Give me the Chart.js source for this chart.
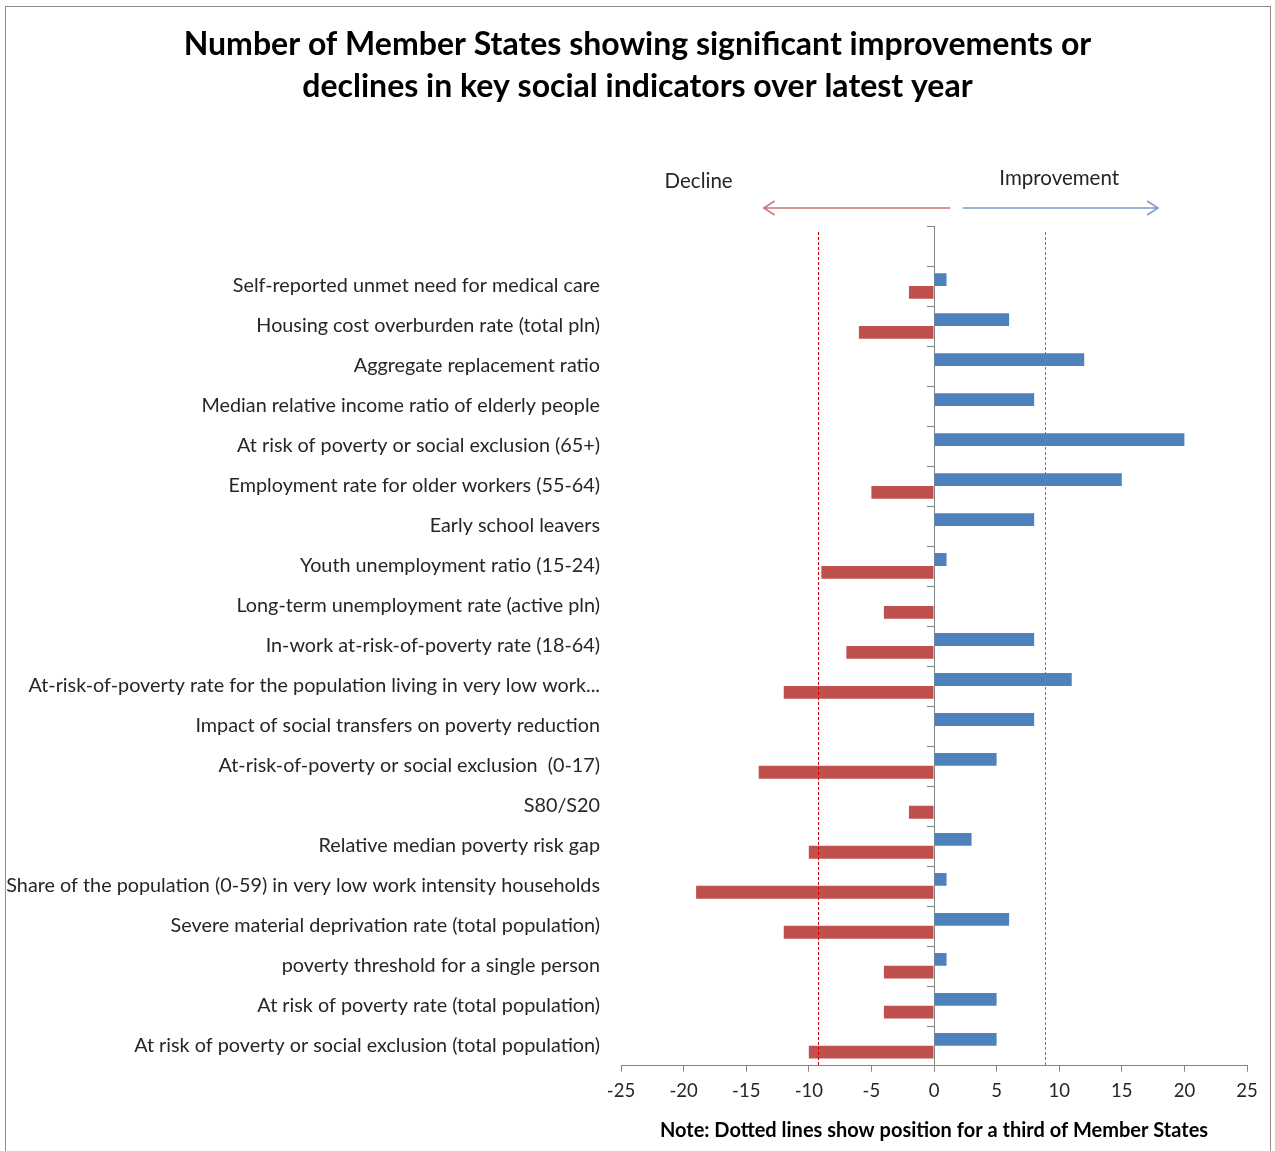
<!DOCTYPE html>
<html>
<head>
<meta charset="utf-8">
<script src="https://cdn.jsdelivr.net/npm/chart.js@4.4.0/dist/chart.umd.min.js"></script>
<style>
  body { margin: 0; background: #fff; }
  #wrap { position: relative; width: 1275px; height: 1151px; }
  #frame { position: absolute; left: 5px; top: 6px; width: 1264px; height: 1160px; border: 1px solid #8c8c8c; pointer-events: none; }
</style>
</head>
<body>
<div id="wrap">
  <canvas id="grafico"></canvas>
  <div id="frame"></div>
</div>
<script>
// Indicators, top to bottom (first slot left empty, as in the original sheet)
const indicators = [
  '',
  'Self-reported unmet need for medical care',
  'Housing cost overburden rate (total pln)',
  'Aggregate replacement ratio',
  'Median relative income ratio of elderly people',
  'At risk of poverty or social exclusion (65+)',
  'Employment rate for older workers (55-64)',
  'Early school leavers',
  'Youth unemployment ratio (15-24)',
  'Long-term unemployment rate (active pln)',
  'In-work at-risk-of-poverty rate (18-64)',
  'At-risk-of-poverty rate for the population living in very low work...',
  'Impact of social transfers on poverty reduction',
  'At-risk-of-poverty or social exclusion  (0-17)',
  'S80/S20',
  'Relative median poverty risk gap',
  'Share of the population (0-59) in very low work intensity households',
  'Severe material deprivation rate (total population)',
  'poverty threshold for a single person',
  'At risk of poverty rate (total population)',
  'At risk of poverty or social exclusion (total population)'
];

const improvements = [null, 1, 6, 12, 8, 20, 15, 8, 1, 0, 8, 11, 8, 5, 0, 3, 1, 6, 1, 5, 5];
const declines = [null, -2, -6, 0, 0, 0, -5, 0, -9, -4, -7, -12, 0, -14, -2, -10, -19, -12, -4, -4, -10];

// a third of Member States
const thirdDecline = -9.3;
const thirdImprovement = 8.9;

const xTicks = [-25, -20, -15, -10, -5, 0, 5, 10, 15, 20, 25];

const azul = '#4F81BD';
const vermelho = '#C0504D';
const cinza = '#868686';
const texto = '#262626';
const fonte = 'Lato, "Open Sans", sans-serif';

const decoracoes = {
  id: 'decoracoes',
  afterDatasetsDraw(chart) {
    const { ctx, chartArea, scales: { x, y } } = chart;
    const x0 = x.getPixelForValue(0);
    const passo = y.getPixelForValue(1) - y.getPixelForValue(0);
    ctx.save();

    // small ticks on the zero axis between categories
    ctx.strokeStyle = cinza;
    ctx.lineWidth = 1;
    for (let i = 0; i < indicators.length; i++) {
      const py = Math.round(y.getPixelForValue(i) - passo / 2) + 0.5;
      ctx.beginPath();
      ctx.moveTo(x0 - 7, py);
      ctx.lineTo(x0, py);
      ctx.stroke();
    }

    // dotted lines for a third of Member States
    ctx.setLineDash([3, 2]);
    [[thirdDecline, '#D00000'], [thirdImprovement, azul]].forEach(([v, cor]) => {
      const px = Math.round(x.getPixelForValue(v)) + 0.5;
      ctx.strokeStyle = cor;
      ctx.beginPath();
      ctx.moveTo(px, chartArea.top + 6);
      ctx.lineTo(px, chartArea.bottom);
      ctx.stroke();
    });
    ctx.restore();
  },
  afterDraw(chart) {
    const { ctx, chartArea, scales: { x } } = chart;
    const ya = chartArea.top - 18;
    ctx.save();
    ctx.lineWidth = 1.5;

    // Decline arrow (pointing left)
    const d1 = x.getPixelForValue(1.3), d2 = x.getPixelForValue(-13.6);
    ctx.strokeStyle = '#C87A78';
    ctx.beginPath();
    ctx.moveTo(d1, ya); ctx.lineTo(d2, ya);
    ctx.moveTo(d2 + 11, ya - 7); ctx.lineTo(d2, ya); ctx.lineTo(d2 + 11, ya + 7);
    ctx.stroke();

    // Improvement arrow (pointing right)
    const i1 = x.getPixelForValue(2.3), i2 = x.getPixelForValue(17.9);
    ctx.strokeStyle = '#7D9CCB';
    ctx.beginPath();
    ctx.moveTo(i1, ya); ctx.lineTo(i2, ya);
    ctx.moveTo(i2 - 11, ya - 7); ctx.lineTo(i2, ya); ctx.lineTo(i2 - 11, ya + 7);
    ctx.stroke();

    ctx.fillStyle = texto;
    ctx.font = '20.5px ' + fonte;
    ctx.textAlign = 'center';
    ctx.textBaseline = 'middle';
    ctx.fillText('Decline', x.getPixelForValue(-18.8), chartArea.top - 45);
    ctx.fillText('Improvement', x.getPixelForValue(10), chartArea.top - 48);
    ctx.restore();
  }
};

new Chart(document.getElementById('grafico'), {
  type: 'bar',
  data: {
    labels: indicators,
    datasets: [
      { label: 'Improvement', data: improvements, backgroundColor: azul },
      { label: 'Decline', data: declines, backgroundColor: vermelho }
    ]
  },
  options: {
    indexAxis: 'y',
    responsive: true,
    maintainAspectRatio: false,
    animation: false,
    categoryPercentage: 0.64,
    barPercentage: 1.0,
    layout: { padding: { top: 7, right: 0, bottom: 6, left: 0 } },
    plugins: {
      legend: { display: false },
      tooltip: { enabled: false },
      title: {
        display: true,
        text: [
          'Number of Member States showing significant improvements or',
          'declines in key social indicators over latest year'
        ],
        color: '#000',
        font: { family: fonte, size: 32, weight: 'bold', lineHeight: 1.3125 },
        padding: { top: 17, bottom: 118 }
      }
    },
    scales: {
      x: {
        min: -25,
        max: 25,
        afterBuildTicks(scale) {
          scale.ticks = xTicks.map(v => ({ value: v }));
        },
        ticks: { color: texto, font: { family: fonte, size: 18.5 }, padding: 8, maxRotation: 0 },
        grid: {
          color: c => (c.tick && c.tick.value === 0 ? cinza : 'transparent'),
          tickColor: cinza,
          tickLength: 6
        },
        border: { color: cinza },
        title: {
          display: true,
          text: 'Note: Dotted lines show position for a third of Member States',
          color: '#000',
          font: { family: fonte, size: 20, weight: 'bold' },
          padding: { top: 9, bottom: 2 }
        }
      },
      y: {
        afterFit(scale) { scale.width = 621; },
        ticks: { color: texto, font: { family: fonte, size: 19.8 }, padding: 21, autoSkip: false },
        grid: { display: false, drawTicks: false },
        border: { display: false }
      },
      // empty margin on the right, keeps the plot where the original has it
      margemDireita: {
        type: 'category',
        axis: 'y',
        position: 'right',
        afterFit(scale) { scale.width = 28; },
        ticks: { display: false },
        grid: { display: false, drawTicks: false },
        border: { display: false }
      }
    }
  },
  plugins: [decoracoes]
});
</script>
</body>
</html>
